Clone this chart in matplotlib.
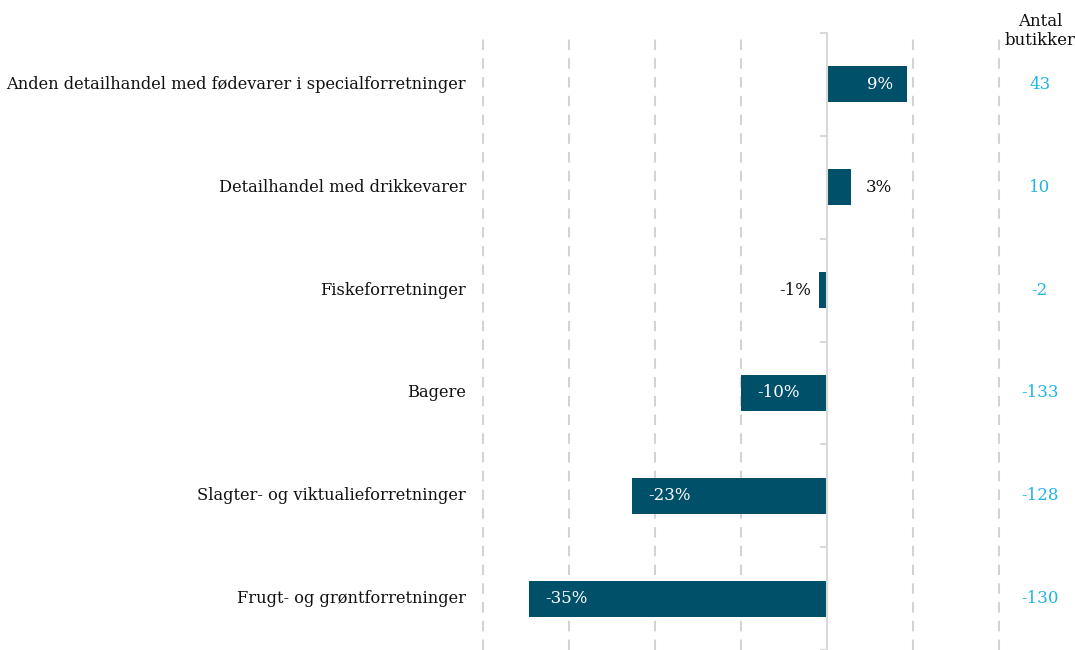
import matplotlib.pyplot as plt
import numpy as np

categories = ['Anden detailhandel med fødevarer i specialforretninger',
              'Detailhandel med drikkevarer',
              'Fiskeforretninger',
              'Bagere',
              'Slagter- og viktualieforretninger',
              'Frugt- og grøntforretninger']
change = [9.3, 2.8, -0.9, -10.0, -22.7, -34.6]
stores = [43, 10, -2, -133, -128, -130]

plt.rcParams['font.family'] = ['DejaVu Serif']
bar_color = '#01506a'
count_color = '#1fb5e3'

fig = plt.figure(figsize=(10.75, 6.5), dpi=100)
ax = fig.add_axes([474 / 1075, 0, 601 / 1075, 617 / 650])

y = np.arange(len(categories))
ax.barh(y, change, height=0.35, color=bar_color, zorder=3)

ax.set_xlim(-41, 28.8)
ax.set_ylim(5.45, -0.5)

# dashed gridlines
ax.set_xticks([-40, -30, -20, -10, 10, 20])
ax.grid(axis='x', color='#d3d3d3', linestyle=(0, (5, 4)), linewidth=1.5, zorder=0)
ax.tick_params(axis='x', length=0, labelbottom=False)

# zero axis with small ticks between categories
for s in ['top', 'right', 'bottom']:
    ax.spines[s].set_visible(False)
ax.spines['left'].set_position(('data', 0))
ax.spines['left'].set_color('#d9d9d9')
ax.spines['left'].set_linewidth(1.5)
ax.spines['left'].set_zorder(4)
ax.set_yticks(np.arange(len(categories) + 1) - 0.5)
ax.tick_params(axis='y', length=5, width=1.5, color='#d9d9d9', labelleft=False)

# category labels
tr = ax.get_yaxis_transform()
for yi, cat in zip(y, categories):
    ax.text(-0.013, yi, cat, transform=tr, ha='right', va='center', fontsize=11.7, color='#111111')

# value labels
for yi, v in zip(y, change):
    lbl = f'{round(v):d}%'
    if abs(v) >= 5:
        if v > 0:
            ax.text(v - 1.6, yi, lbl, ha='right', va='center', color='white', fontsize=12, zorder=5)
        else:
            ax.text(v + 1.9, yi, lbl, ha='left', va='center', color='white', fontsize=12, zorder=5)
    else:
        if v > 0:
            ax.text(v + 1.7, yi, lbl, ha='left', va='center', color='#111111', fontsize=12)
        else:
            ax.text(v - 1.0, yi, lbl, ha='right', va='center', color='#111111', fontsize=12)

# store counts column
for yi, n in zip(y, stores):
    ax.text(24.7, yi, str(n), ha='center', va='center', color=count_color, fontsize=12)
fig.text(1040 / 1075, 1 - 31 / 650, 'Antal\nbutikker', ha='center', va='center', fontsize=12,
         color='#111111', linespacing=1.1)

fig.savefig('out.png', dpi=100)
